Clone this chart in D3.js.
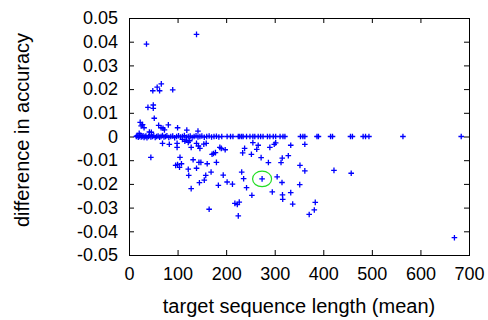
<!DOCTYPE html>
<html>
<head>
<meta charset="utf-8">
<script src="https://cdn.jsdelivr.net/npm/d3@7"></script>
<style>
  body { margin: 0; background: #fff; }
  svg text { font-family: "Liberation Sans", Arial, sans-serif; fill: #000; }
</style>
</head>
<body>
<div id="chart"></div>
<script>
// x: target sequence length (mean), y: difference in accuracy
const upperPoints = [
  [36, 0.039], [139, 0.0431], [66.5, 0.0222], [58, 0.0208], [49, 0.0193], [63, 0.0193], [90, 0.0197],
  [39, 0.0123], [50, 0.0133], [50, 0.0119], [52, 0.0077], [23, 0.006], [25, 0.0045], [28, 0.005],
  [31, 0.0037], [21, 0.0013], [61, 0.0047], [66, 0.0037], [70, 0.0035], [73, 0.0028], [81, 0.0049],
  [100, 0.0037], [119, 0.0027], [142, 0.0023], [42, 0.0019], [46, 0.0018]
];

const zeroBand = [
  [15, 0], [17, 0.0004], [19, -0.0003], [21, 0], [23, 0.0005], [25, -0.0002], [27, 0], [29, 0.0003],
  [31, -0.0004], [33, 0], [35, 0.0002], [37, -0.0005], [40, 0], [42, 0.0004], [45, -0.0002], [48, 0],
  [51, 0.0003], [54, -0.0004], [57, 0], [60, 0.0002], [63, -0.0003], [66, 0], [69, 0.0004], [72, -0.0002],
  [75, 0], [78, 0.0003], [82, -0.0004], [86, 0], [90, 0.0002], [94, -0.0005], [98, 0], [102, 0.0003],
  [106, -0.0002], [110, 0], [114, 0.0004], [118, -0.0003], [122, 0], [126, 0.0002], [130, -0.0004],
  [134, 0], [138, 0.0003], [142, -0.0002], [146, 0], [150, 0.0002], [155, -0.0003], [160, 0],
  [165, 0.0002], [170, -0.0002], [175, 0], [180, 0.0001], [185, -0.0002], [191, 0], [202, 0],
  [209, 0], [214, 0], [225, 0], [228, 0], [232, 0], [235, 0], [242, 0], [249, 0], [255, 0], [259, 0],
  [266, 0], [271, 0], [276, 0], [285, 0], [290, 0], [297, 0], [302, 0], [311, 0], [317, 0], [321, 0],
  [353, 0], [358, 0], [362, 0], [387, 0], [390, 0], [415, 0], [419, 0], [456, 0], [460, 0],
  [482, 0], [487, 0], [494, 0], [564, 0], [684, 0]
];

const lowerPoints = [
  [69, -0.0029], [83, -0.0033], [99, -0.0029], [99, -0.0046], [128, -0.0046], [139, -0.0029],
  [159, -0.0029], [187, -0.0046], [45, -0.0088], [115, -0.002], [118, -0.0015], [122, -0.0025],
  [110, -0.0012], [125, -0.0018], [143, -0.004], [146, -0.005], [154, -0.0032], [190, -0.005],
  [198, -0.0056], [178, -0.0068], [174, -0.0072], [171, -0.0075], [105, -0.0088], [108, -0.0115],
  [96, -0.0122], [100, -0.0118], [104, -0.013], [132, -0.0098], [144, -0.0109], [148, -0.0109],
  [161, -0.0115], [122, -0.0138], [139, -0.0134], [123, -0.0164], [169, -0.015], [158, -0.0164],
  [155, -0.0184], [145, -0.0195], [184, -0.0206], [128, -0.022], [194, -0.0163], [202, -0.0192],
  [180, -0.0109], [213, -0.0201], [165, -0.0307], [218, -0.0282], [223, -0.0287], [227, -0.0277],
  [225, -0.0335], [232, -0.015], [236, -0.0178], [242, -0.0216], [234, -0.0069], [238, -0.005],
  [253, -0.0248], [252, -0.0075], [255, -0.0026], [266, -0.0037], [263, -0.0054], [274, -0.0179],
  [272, -0.0089], [287, -0.011], [295, -0.0234], [299, -0.0033], [302, -0.0027], [290, -0.0046],
  [305, -0.017], [313, -0.011], [315.5, -0.0091], [315, -0.0194], [316, -0.0246], [316.5, -0.0265],
  [328, -0.0081], [333, -0.0037], [333, -0.0237], [337, -0.0285], [352, -0.0122], [351.5, -0.0203],
  [362, -0.0033], [362, -0.0145], [371, -0.0329], [381.5, -0.031], [383.5, -0.0278], [422, -0.0143],
  [457.5, -0.0155], [670, -0.0427]
];

const highlight = [274, -0.0179];

const xTicks = [0, 100, 200, 300, 400, 500, 600, 700];
const yTicks = [0.05, 0.04, 0.03, 0.02, 0.01, 0, -0.01, -0.02, -0.03, -0.04, -0.05];

const W = 488, H = 320;
const margin = { top: 18, right: 19, bottom: 65, left: 129 };
const width = W - margin.left - margin.right;
const height = H - margin.top - margin.bottom;

const svg = d3.select('#chart').append('svg')
  .attr('width', W)
  .attr('height', H);
const g = svg.append('g')
  .attr('transform', 'translate(' + margin.left + ',' + margin.top + ')');

const x = d3.scaleLinear().domain([0, 700]).range([0, width]);
const y = d3.scaleLinear().domain([-0.05, 0.05]).range([height, 0]);

const yFmt = d => d === 0 ? '0' : d.toFixed(2);
const tick = 5;

// axes (ticks point inward, mirrored on top and right)
const xAxis = g.append('g').attr('transform', 'translate(0,' + height + ')')
  .call(d3.axisBottom(x).tickValues(xTicks).tickSize(-tick).tickPadding(12));
const yAxis = g.append('g')
  .call(d3.axisLeft(y).tickValues(yTicks).tickSize(-tick).tickPadding(11).tickFormat(yFmt));
g.append('g').call(d3.axisTop(x).tickValues(xTicks).tickSize(-tick).tickFormat(''));
g.append('g').attr('transform', 'translate(' + width + ',0)')
  .call(d3.axisRight(y).tickValues(yTicks).tickSize(-tick).tickFormat(''));

g.selectAll('.domain').remove();
g.selectAll('.tick line').attr('stroke', '#000').attr('stroke-width', 1);
xAxis.selectAll('text').style('font-size', '18px').attr('dy', '0.71em');
yAxis.selectAll('text').style('font-size', '18px');

g.append('rect')
  .attr('x', 0.5).attr('y', 0.5)
  .attr('width', width).attr('height', height)
  .attr('fill', 'none').attr('stroke', '#000').attr('stroke-width', 1);

// points
const all = upperPoints.concat(zeroBand, lowerPoints);
const s = 2.8;
g.append('g').selectAll('path').data(all).join('path')
  .attr('d', d => {
    const px = x(d[0]), py = y(d[1]);
    return 'M' + (px - s) + ',' + py + 'H' + (px + s) + 'M' + px + ',' + (py - s) + 'V' + (py + s);
  })
  .attr('stroke', '#0000ff')
  .attr('stroke-width', 1.3)
  .attr('fill', 'none');

g.append('ellipse')
  .attr('cx', x(highlight[0])).attr('cy', y(highlight[1]))
  .attr('rx', 9.5).attr('ry', 7.8)
  .attr('fill', 'none').attr('stroke', '#22dd22').attr('stroke-width', 1.2);

// axis titles
svg.append('text')
  .attr('x', margin.left + width / 2).attr('y', 313)
  .attr('text-anchor', 'middle').style('font-size', '20px')
  .text('target sequence length (mean)');
svg.append('text')
  .attr('transform', 'translate(29,130) rotate(-90)')
  .attr('text-anchor', 'middle').style('font-size', '20px')
  .text('difference in accuracy');
</script>
</body>
</html>
